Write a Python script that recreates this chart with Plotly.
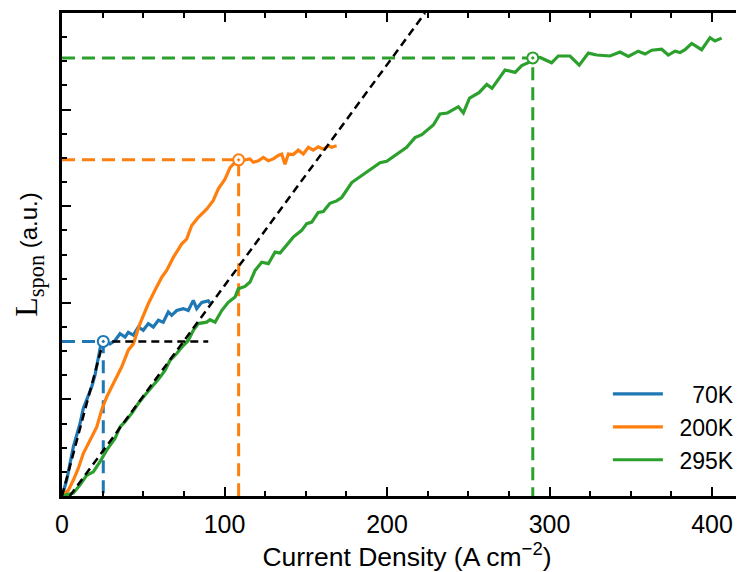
import plotly.graph_objects as go

# ---------------- data ----------------
series_names = ["\u2002\u200770K", "\u2002200K", "\u2002295K"]
colors = ["#1f77b4", "#ff7f0e", "#2ca02c"]

x_70 = [0, 2.9, 7.0, 11.1, 13.1, 18.3, 20.3, 22.3, 23.8, 25.4, 29.5, 32.6, 35.7, 38.8, 40.8,
        43.9, 47.0, 50.0, 53.1, 56.2, 59.3, 62.3, 65.4, 67.5, 70.6, 74.6, 77.7, 80.8, 82.9, 86.0,
        90.0, 91.1]
y_70 = [0, 0.33, 1.02, 1.50, 1.81, 2.26, 2.50, 2.88, 3.12, 3.20, 3.15, 3.22, 3.36, 3.29, 3.39,
        3.33, 3.50, 3.43, 3.57, 3.50, 3.64, 3.60, 3.81, 3.74, 3.84, 3.88, 3.84, 4.05, 3.88, 4.01,
        4.04, 3.99]

x_200 = [0, 3.9, 7.0, 10.0, 13.1, 17.2, 21.4, 24.4, 27.5, 31.6, 36.7, 40.8, 43.9, 48.0, 53.1,
         57.2, 61.4, 64.4, 68.5, 73.7, 76.7, 79.8, 83.9, 89.0, 93.1, 96.2, 100.3, 103.4, 105.4,
         108.7, 112.6, 115.7, 117.7, 120.8, 123.9, 127.0, 130.0, 133.1, 135.2, 137.2, 139.3,
         142.3, 145.4, 148.5, 151.6, 154.6, 157.7, 160.8, 163.9, 165.9, 169.0]
y_200 = [0, 0.12, 0.33, 0.57, 0.88, 1.16, 1.43, 1.78, 2.05, 2.33, 2.67, 3.02, 3.15, 3.57, 3.98,
         4.26, 4.53, 4.67, 4.94, 5.22, 5.32, 5.60, 5.77, 5.94, 6.12, 6.36, 6.56, 6.80, 6.87,
         6.96, 6.96, 6.98, 6.91, 6.94, 7.01, 6.94, 6.98, 7.05, 7.08, 6.87, 7.08,
         7.07, 7.16, 7.08, 7.22, 7.16, 7.23, 7.18, 7.25, 7.22, 7.25]

x_295 = [0, 7.0, 11.1, 15.2, 19.3, 23.4, 27.5, 32.6, 35.7, 38.8, 42.9, 47.0, 51.1, 56.2, 60.3,
         63.4, 66.5, 70.6, 73.7, 77.7, 80.8, 83.9, 89.0, 91.1, 94.2, 98.3, 102.3, 106.5, 108.5,
         112.6, 115.7, 118.8, 122.9, 127.0, 131.1, 134.2, 138.3, 142.3, 147.5, 150.6, 153.7,
         157.7, 160.8, 164.9, 169.0, 172.1, 178.3, 181.4, 187.5, 190.6, 195.7, 199.8, 206.0,
         212.1, 217.2, 221.4, 228.5, 232.6, 237.2, 243.9, 247.0, 250.8, 256.6, 261.4, 264.6,
         272.6, 278.8, 282.9, 286.9, 289.7, 294.2, 301.3, 305.4, 312.6, 318.3, 323.9, 329.0,
         337.2, 343.4, 348.5, 354.6, 358.8, 362.9, 369.0, 373.1, 377.2, 380.3, 383.4, 387.5,
         393.6, 398.8, 401.8, 405.9]
y_295 = [0, 0.06, 0.23, 0.43, 0.50, 0.71, 0.95, 1.19, 1.43, 1.54, 1.71, 1.92, 2.09, 2.29, 2.46,
         2.60, 2.81, 2.95, 3.08, 3.22, 3.43, 3.57, 3.60, 3.65, 3.60, 3.84, 4.01, 4.12, 4.29,
         4.34, 4.43, 4.67, 4.84, 4.81, 5.05, 5.03, 5.19, 5.36, 5.50, 5.64, 5.67,
         5.87, 5.89, 6.06, 6.11, 6.18, 6.49, 6.56, 6.70, 6.77, 6.90, 6.93, 7.08,
         7.22, 7.42, 7.48, 7.68, 7.91, 7.93, 8.06, 7.93, 8.24, 8.35, 8.52, 8.44,
         8.82, 8.77, 8.91, 8.97, 9.06, 9.08, 8.97, 9.11, 9.11, 8.92, 9.17, 9.13,
         9.11, 9.19, 9.10, 9.21, 9.15, 9.23, 9.25, 9.13, 9.21, 9.18, 9.24, 9.37,
         9.24, 9.49, 9.42, 9.48]

# knee (threshold) points per series
knee_x = [25.4, 108.7, 289.7]
knee_y = [3.20, 6.96, 9.07]

# black dashed fits
fit70_x = [0, 25.4, 90.0]
fit70_y = [0, 3.20, 3.20]
fit295_x = [4.8, 223.4]
fit295_y = [0, 10.0]

x_tick_vals = [0, 100, 200, 300, 400]
x_tick_text = ["0", "100", "200", "300", "400"]

X_MAX = 424.6
Y_MAX = 10.0

# ---------------- figure ----------------
fig = go.Figure()

# colored dashed guide lines
for kx, ky, c in zip(knee_x, knee_y, colors):
    fig.add_trace(go.Scatter(x=[0, kx, kx], y=[ky, ky, 0], mode="lines",
                             line=dict(color=c, width=3, dash="13px,7px"),
                             showlegend=False, hoverinfo="skip"))

# data curves
for xs, ys, c, n in zip([x_70, x_200, x_295], [y_70, y_200, y_295], colors, series_names):
    fig.add_trace(go.Scatter(x=xs, y=ys, mode="lines", name=n,
                             line=dict(color=c, width=3.2)))

# black dashed fits
fig.add_trace(go.Scatter(x=fit70_x, y=fit70_y, mode="lines",
                         line=dict(color="black", width=2.5, dash="8px,5px"),
                         showlegend=False, hoverinfo="skip"))
fig.add_trace(go.Scatter(x=fit295_x, y=fit295_y, mode="lines",
                         line=dict(color="black", width=2.5, dash="8px,5px"),
                         showlegend=False, hoverinfo="skip"))

# knee markers
for kx, ky, c in zip(knee_x, knee_y, colors):
    fig.add_trace(go.Scatter(x=[kx], y=[ky], mode="markers",
                             marker=dict(symbol="circle-dot", size=11, color="white",
                                         line=dict(color=c, width=2)),
                             showlegend=False, hoverinfo="skip", cliponaxis=False))

font_family = "Liberation Sans, Arial, sans-serif"
serif = "'Liberation Serif', 'DejaVu Serif', serif"

fig.update_layout(
    width=744, height=572,
    margin=dict(l=54, r=0, t=5, b=84),
    paper_bgcolor="white", plot_bgcolor="white",
    font=dict(family=font_family, size=25, color="black"),
    legend=dict(x=0.981, y=0.03, xanchor="right", yanchor="bottom",
                bgcolor="rgba(0,0,0,0)", font=dict(size=23),
                itemwidth=50, tracegroupgap=0),
    xaxis=dict(
        range=[0, X_MAX], showgrid=False, zeroline=False, automargin=False,
        showline=True, linecolor="black", linewidth=3, mirror="ticks",
        ticks="inside", ticklen=9, tickwidth=1.5, tickcolor="black",
        tickvals=x_tick_vals, ticktext=x_tick_text,
        tickfont=dict(size=25), ticklabelstandoff=4,
        minor=dict(ticks="inside", ticklen=5, tickwidth=1.5, tickcolor="black", dtick=25,
                   tick0=0, showgrid=False),
        title=dict(text="Current Density (A cm<sup>\u22122</sup>)",
                   font=dict(size=26.5), standoff=5),
    ),
    yaxis=dict(
        range=[0, Y_MAX], showgrid=False, zeroline=False, automargin=False,
        showline=True, linecolor="black", linewidth=3, mirror="ticks",
        ticks="inside", ticklen=9, tickwidth=1.5, tickcolor="black",
        dtick=2, tick0=0, showticklabels=False,
        minor=dict(ticks="inside", ticklen=5, tickwidth=1.5, tickcolor="black", dtick=0.5,
                   tick0=0, showgrid=False),
        title=dict(text=("<span style=\"font-family:" + serif + ";font-size:32px\">L</span>"
                         "<span style=\"font-family:" + serif + ";font-size:32px\"><sub>spon</sub></span>"
                         " (a.u.)"),
                   font=dict(size=24), standoff=16),
    ),
)

fig.write_html("out.html")
